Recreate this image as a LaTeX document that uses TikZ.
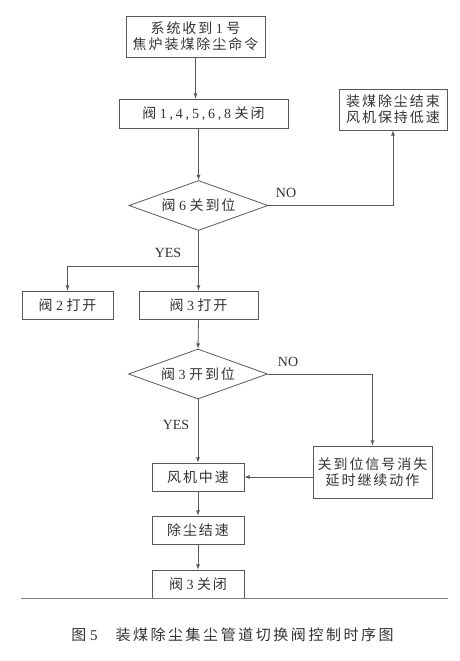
\documentclass[tikz,border=0pt]{standalone}
\usepackage{fontspec}
\setmainfont{Liberation Serif}
\newfontfamily\cjk[LetterSpace=14]{Noto Sans CJK SC}
\newfontfamily\capcjk[LetterSpace=17]{Noto Sans CJK SC}
\newfontfamily\num[LetterSpace=20]{Liberation Serif}
\newcommand\zh[1]{{\cjk #1}}
\newcommand\nr[1]{{\num #1}}
\usetikzlibrary{shapes.geometric}
\begin{document}
\begin{tikzpicture}[>=latex,x=1pt,y=-1pt,line width=0.8pt,
	every node/.style={text=black!80,font=\fontsize{14}{16}\selectfont},
	box/.style={draw=black!65,align=center,inner sep=0pt},
	test/.style={draw=black!65,shape=diamond,aspect=2.78,inner sep=0pt,
		minimum width=139pt,minimum height=50pt},
	answer/.style={font=\fontsize{14}{16}\selectfont},
	flow/.style={draw=black!65,->}]
\useasboundingbox (0,0) rectangle (460,661);
\node[box,minimum width=139pt,minimum height=41pt] (start) at (195.5,36.5)
	{\zh{系统收到}\ \nr{1}\ \zh{号}\\\zh{焦炉装煤除尘命令}};
\node[box,minimum width=169pt,minimum height=29pt] (close) at (203.5,113.5)
	{\zh{阀}\ \nr{1,4,5,6,8}\ \zh{关闭}};
\node[box,minimum width=108pt,minimum height=41pt] (stop) at (393,109.5)
	{\zh{装煤除尘结束}\\\zh{风机保持低速}};
\node[test] (test6) at (198.5,205.5) {\zh{阀}\ \nr{6}\ \zh{关到位}};
\node[box,minimum width=91pt,minimum height=28pt] (open2) at (67.5,305)
	{\zh{阀}\ \nr{2}\ \zh{打开}};
\node[box,minimum width=119pt,minimum height=28pt] (open3) at (198.5,305)
	{\zh{阀}\ \nr{3}\ \zh{打开}};
\node[test] (test3) at (198,374) {\zh{阀}\ \nr{3}\ \zh{开到位}};
\node[box,minimum width=119pt,minimum height=52pt] (delay) at (372.5,472)
	{\zh{关到位信号消失}\\\zh{延时继续动作}};
\node[box,minimum width=92pt,minimum height=28pt] (fan) at (198,477) {\zh{风机中速}};
\node[box,minimum width=92pt,minimum height=28pt] (dust) at (198,530) {\zh{除尘结速}};
\node[box,minimum width=92pt,minimum height=28pt] (shut3) at (198,584)
	{\zh{阀}\ \nr{3}\ \zh{关闭}};
\node[answer] at (286,193) {NO};
\node[answer] at (168,253) {YES};
\node[answer] at (288,362) {NO};
\node[answer] at (176,425) {YES};
\coordinate (split) at (198,266);
\draw[flow] (start.south) -- (start.south |- close.north);
\draw[flow] (test6.north |- close.south) -- (test6.north);
\draw[flow] (test6.east) -| (stop.south);
\draw[flow] (test6.south) -- (open3.north);
\draw[flow] (split) -| (open2.north);
\draw[flow] (open3.south) -- (test3.north);
\draw[flow] (test3.east) -| (delay.north);
\draw[flow] (test3.south) -- (fan.north);
\draw[flow] (delay.west |- fan.east) -- (fan.east);
\draw[flow] (fan.south) -- (dust.north);
\draw[flow] (dust.south) -- (shut3.north);
\draw[black!50,line width=0.5pt] (21,598) -- (448,598);
\node[font=\fontsize{15}{18}\selectfont] (caption) at (232.5,635)
	{{\capcjk 图}\ 5\hspace{1.2em}{\capcjk 装煤除尘集尘管道切换阀控制时序图}};
\end{tikzpicture}
\end{document}
